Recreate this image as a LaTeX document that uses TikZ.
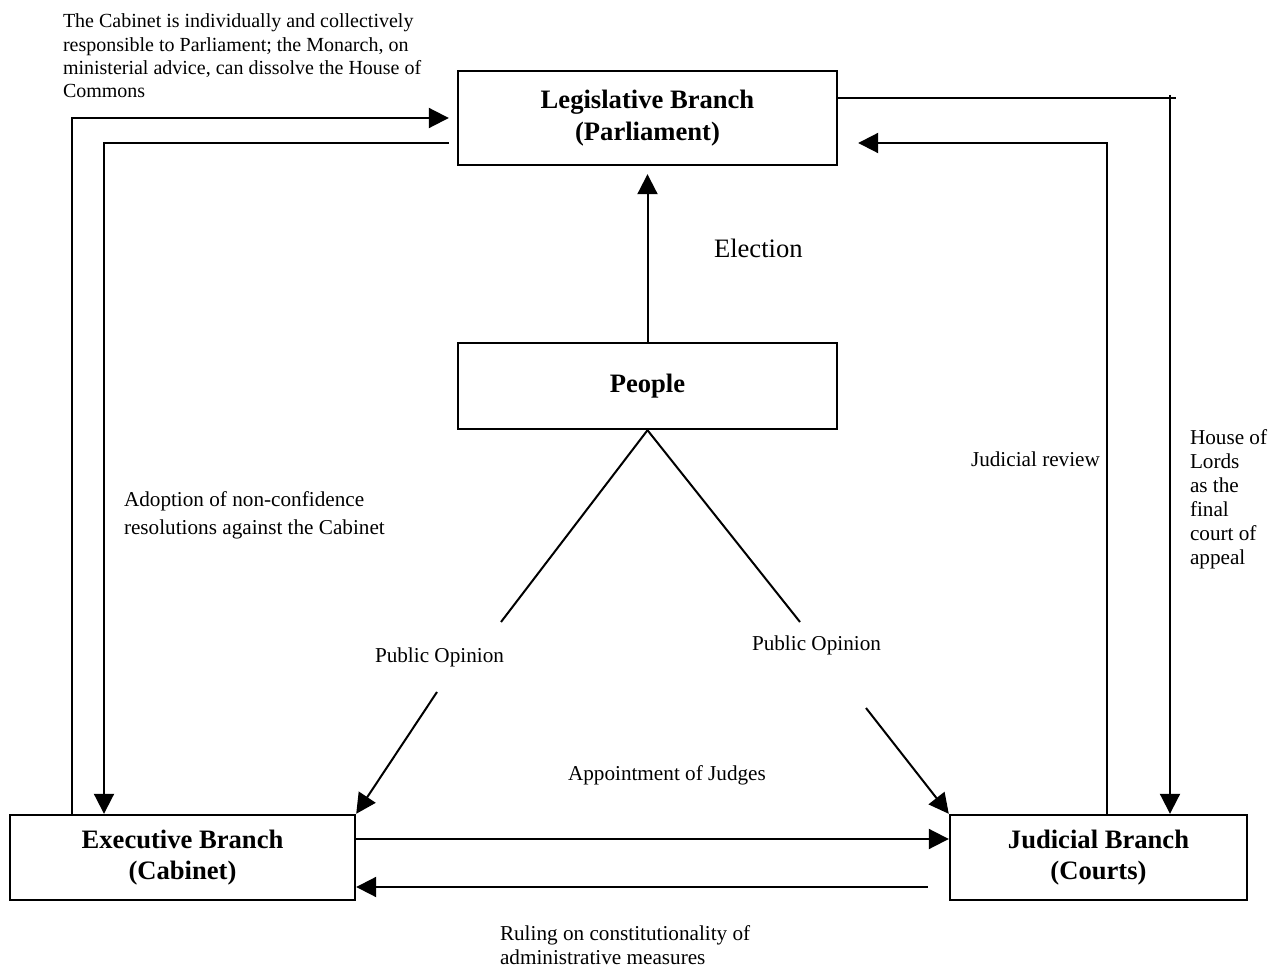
\documentclass[tikz,border=0pt]{standalone}
\usepackage{fontspec}
\setmainfont{Liberation Serif}
\usetikzlibrary{arrows.meta}
\usetikzlibrary{positioning}
\usetikzlibrary{calc}

\begin{document}
\begin{tikzpicture}[x=0.5pt, y=-0.5pt, line width=1pt,
    branch/.style={draw, line width=1.2pt, align=center, inner sep=0pt, font=\fontsize{13.3}{15.5}\selectfont\bfseries},
    note/.style={inner sep=0pt, align=left, anchor=base west, font=\fontsize{10.6}{12}\selectfont},
    arr/.style={-{Triangle[length=10pt, width=10pt]}}]
        \useasboundingbox (0,0) rectangle (1282,968);

        \node[branch, minimum width=189.5pt, minimum height=47pt, font=\fontsize{13.3}{16}\selectfont\bfseries] (leg) at (647.5,118) {Legislative Branch\\(Parliament)};

        \node[branch, minimum width=189.5pt, minimum height=43pt] (people) at (647.5,386) {People};

        \node[branch, minimum width=172.5pt, minimum height=42.5pt] (exec) at (182.5,857.5) {Executive Branch\\(Cabinet)};

        \node[branch, minimum width=148.5pt, minimum height=42.5pt] (jud) at (1098.5,857.5) {Judicial Branch\\(Courts)};

        \node[note, font=\fontsize{10}{11.7}\selectfont] (resp) at (62,98) {The Cabinet is individually and collectively\\responsible to Parliament; the Monarch, on\\ministerial advice, can dissolve the House of\\Commons};
        \node[note, font=\fontsize{13.3}{16}\selectfont] (elect) at (713,258) {Election};
        \node[note, font=\fontsize{10.6}{14}\selectfont] (adopt) at (123,535) {Adoption of non-confidence\\resolutions against the Cabinet};
        \node[note] (review) at (970,467) {Judicial review};
        \node[note] (lords) at (1189,565) {House of\\Lords\\as the\\final\\court of\\appeal};
        \node[note] (opl) at (374,662) {Public Opinion};
        \node[note] (opr) at (751,651) {Public Opinion};
        \node[note] (appoint) at (567,781) {Appointment of Judges};
        \node[note] (ruling) at (499,964) {Ruling on constitutionality of\\administrative measures};

        \coordinate (lo) at (72,118);
        \coordinate (li) at (104,143);
        \coordinate (ro) at (1170,98);
        \coordinate (jr) at (1107,143);
        \coordinate (pl) at (501,622);
        \coordinate (pr) at (800,622);
        \coordinate (ql) at (437,692);
        \coordinate (qr) at (866,708);

        \draw[arr] (exec.north -| lo) |- ([xshift=-4pt]leg.west |- lo);
        \draw[arr] ([xshift=-4pt]leg.west |- li) -| (exec.north -| li);
        \draw (leg.east |- ro) -- ([xshift=3pt]ro);
        \draw[arr] ([yshift=1.5pt]ro) -- (jud.north -| ro);
        \draw[arr] (jud.north -| jr) |- ([xshift=10pt]leg.east |- jr);
        \draw[arr] (people.north) -- ([yshift=-4pt]leg.south);
        \draw (people.south) -- (pl);
        \draw (people.south) -- (pr);
        \draw[arr] (ql) -- (exec.north east);
        \draw[arr] (qr) -- (jud.north west);
        \draw[arr] ([yshift=9.25pt]exec.east) -- ([yshift=9.25pt]jud.west);
        \draw[arr] ([xshift=-10.5pt, yshift=-14.75pt]jud.west) -- ([yshift=-14.75pt]exec.east);
      \end{tikzpicture}
\end{document}
